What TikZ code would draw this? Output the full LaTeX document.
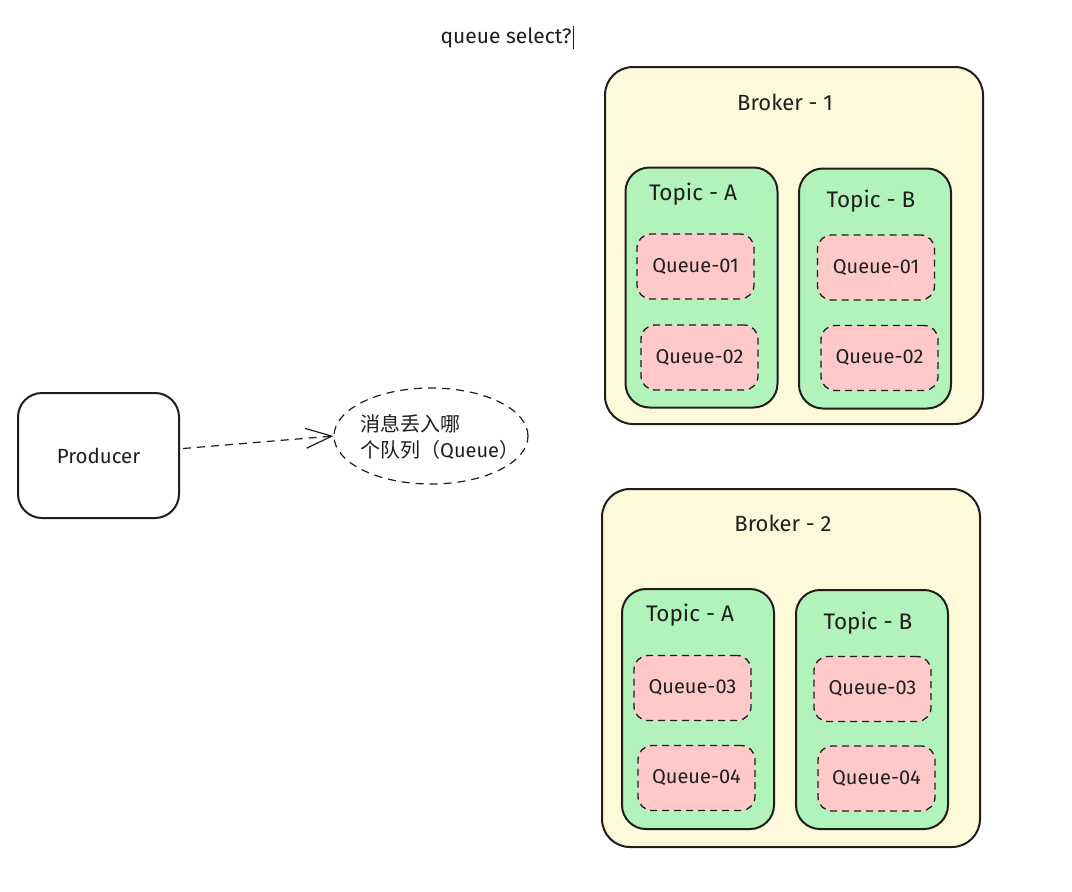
\documentclass[tikz,border=0pt]{standalone}
\usepackage{fontspec}
\setmainfont{Fira Sans}
\newfontfamily\cjk{Noto Sans CJK SC}
\usetikzlibrary{arrows.meta,shapes.geometric}
\definecolor{ink}{HTML}{1E1E1E}
\definecolor{brokerfill}{HTML}{FFF9DB}
\definecolor{topicfill}{HTML}{B2F2BB}
\definecolor{queuefill}{HTML}{FFC9C9}
\tikzset{
  base/.style={draw=ink, line width=2pt, inner sep=0pt},
  brokerbox/.style={base, fill=brokerfill, rounded corners=28pt, minimum width=378pt, minimum height=357pt},
  topicbox/.style={base, fill=topicfill, rounded corners=24pt, minimum width=152pt, minimum height=240pt},
  queuebox/.style={draw=ink, line width=1.3pt, dash pattern=on 7pt off 5pt, fill=queuefill, rounded corners=14pt, minimum width=117pt, minimum height=65pt, font=\fontsize{20}{24}\selectfont, text=ink},
  prodbox/.style={base, fill=white, rounded corners=24pt, minimum width=161pt, minimum height=125pt, font=\fontsize{20.5}{24}\selectfont, text=ink},
  lbl/.style={font=\fontsize{22}{26}\selectfont, text=ink, inner sep=0pt},
  tlbl/.style={font=\fontsize{22.5}{26}\selectfont, text=ink, inner sep=0pt},
  note/.style={draw=ink, line width=1.2pt, dash pattern=on 8pt off 6pt, ellipse, minimum width=194pt, minimum height=96pt, inner sep=0pt},
  conn/.style={draw=ink, line width=1.2pt, dash pattern=on 8pt off 6pt, -{Straight Barb[length=26pt,width=20pt,line width=1.2pt]}}
}
\begin{document}
\begin{tikzpicture}[x=1pt,y=-1pt]
\useasboundingbox (0,0) rectangle (1072,892);
\fill[white] (0,0) rectangle (1072,892);

% title
\node[lbl, font=\fontsize{21}{24}\selectfont] (title) at (506,38) {queue select?};
\coordinate (curtop) at (573,26);
\coordinate (curbot) at (573,49);
\draw[ink, line width=1pt] (curtop) -- (curbot);

% producer
\node[prodbox] (prod) at (98.5,455.5) {Producer};

% ellipse note
\node[note] (ell) at (431,436) {};
\node[lbl, align=left, anchor=west, font=\fontsize{20}{26}\selectfont] (elltxt) at (360,437) {{\cjk 消息丢入哪}\\{\cjk 个队列（}Queue{\cjk ）}};

\draw[conn] ([xshift=3pt,yshift=7pt]prod.east) -- (ell.west);

% Broker 1
\node[brokerbox] (b1) at (794,245.5) {};
\node[lbl] (b1l) at (785,102) {Broker - 1};
\node[topicbox] (b1ta) at (701.5,287.5) {};
\node[tlbl] (b1tal) at (693,194) {Topic - A};
\node[topicbox] (b1tb) at (875,288.5) {};
\node[tlbl] (b1tbl) at (871,201) {Topic - B};
\node[queuebox] (b1q1) at (695.5,266.5) {Queue-01};
\node[queuebox] (b1q2) at (699.5,357.5) {Queue-02};
\node[queuebox] (b1q3) at (876,267.5) {Queue-01};
\node[queuebox] (b1q4) at (879.5,358) {Queue-02};

% Broker 2
\node[brokerbox, minimum height=358pt] (b2) at (791,668) {};
\node[lbl] (b2l) at (783,523) {Broker - 2};
\node[topicbox] (b2ta) at (698,709) {};
\node[tlbl] (b2tal) at (690,615) {Topic - A};
\node[topicbox, minimum height=239pt] (b2tb) at (872,709.5) {};
\node[tlbl] (b2tbl) at (868,623) {Topic - B};
\node[queuebox] (b2q1) at (692.5,688) {Queue-03};
\node[queuebox] (b2q2) at (696.5,778) {Queue-04};
\node[queuebox] (b2q3) at (872.5,689) {Queue-03};
\node[queuebox] (b2q4) at (876.5,778.5) {Queue-04};
\end{tikzpicture}
\end{document}
